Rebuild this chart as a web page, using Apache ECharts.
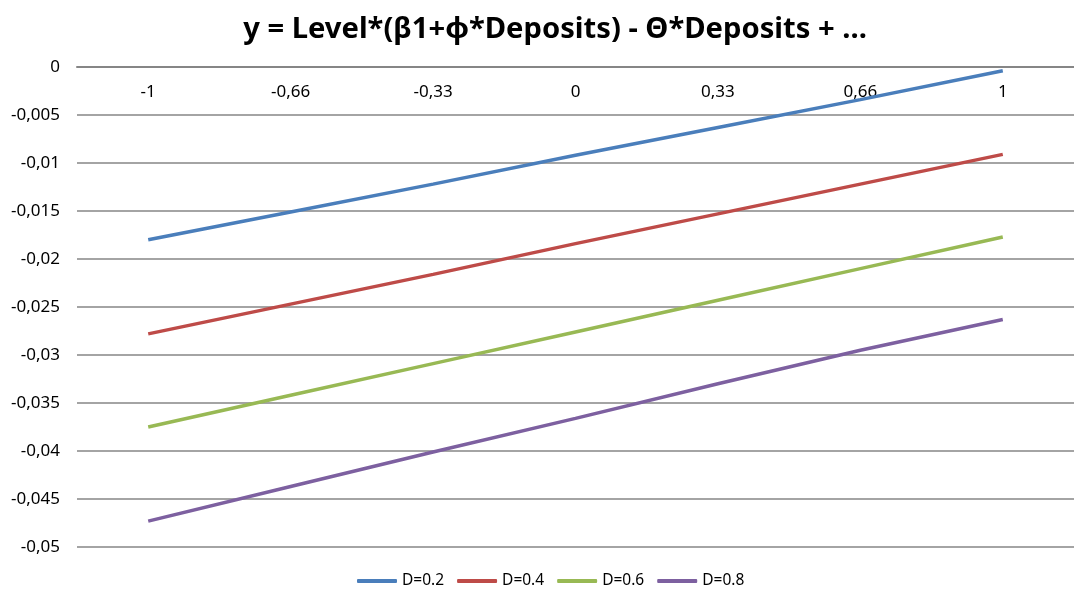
<!DOCTYPE html>
<html>
<head>
<meta charset="utf-8">
<script src="https://cdn.jsdelivr.net/npm/echarts@6/dist/echarts.min.js"></script>
<style>html,body{margin:0;padding:0;background:#fff}#c{width:1074px;height:595px}</style>
</head>
<body>
<div id="c"></div>
<script>
var categories = ['-1', '-0,66', '-0,33', '0', '0,33', '0,66', '1'];
var seriesNames = ['D=0.2', 'D=0.4', 'D=0.6', 'D=0.8'];
var d02 = [-0.0180, -0.0151, -0.0122, -0.0092, -0.0063, -0.0034, -0.0004];
var d04 = [-0.0278, -0.0247, -0.0216, -0.0184, -0.0153, -0.0122, -0.0091];
var d06 = [-0.0375, -0.0342, -0.0309, -0.0276, -0.0243, -0.0210, -0.0177];
var d08 = [-0.0473, -0.0437, -0.0401, -0.0366, -0.0330, -0.0295, -0.0263];
var colors = ['#4A7EBB', '#BE4B48', '#98B954', '#7D60A0'];
var titleText = 'y = Level*(β1+φ*Deposits) - Θ*Deposits + ...';

var chart = echarts.init(document.getElementById('c'));
var font = 'Noto Sans';
var allData = [d02, d04, d06, d08];
chart.setOption({
  animation: false,
  title: {
    text: titleText, left: 550, textAlign: 'center', top: 10,
    textStyle: { fontFamily: font, fontWeight: 'bold', fontSize: 29.2, color: '#000' }
  },
  legend: {
    bottom: 1, left: 352, itemWidth: 40, itemHeight: 4, itemGap: 13,
    icon: 'roundRect',
    textStyle: { fontFamily: font, fontSize: 15.5, color: '#000' },
    data: seriesNames
  },
  grid: { left: 77, top: 67, width: 1001, height: 480, containLabel: false },
  xAxis: {
    type: 'category', position: 'top', data: categories, boundaryGap: true,
    axisLine: { show: true, onZero: false, lineStyle: { color: '#868686', width: 2 } },
    axisTick: { show: false },
    axisLabel: { inside: true, margin: 17, fontFamily: font, fontSize: 17, color: '#000' }
  },
  yAxis: {
    type: 'value', min: -0.05, max: 0, interval: 0.005,
    axisLine: { show: false }, axisTick: { show: false },
    splitLine: { lineStyle: { color: '#868686', width: 1.5 } },
    axisLabel: {
      margin: 17, fontFamily: font, fontSize: 17, color: '#000',
      formatter: function (v) { return String(parseFloat(v.toFixed(3))).replace('.', ','); }
    }
  },
  series: allData.map(function (d, i) {
    return {
      name: seriesNames[i], type: 'line', data: d, symbol: 'none',
      lineStyle: { color: colors[i], width: 3.5 }, itemStyle: { color: colors[i] }
    };
  })
});
</script>
</body>
</html>
